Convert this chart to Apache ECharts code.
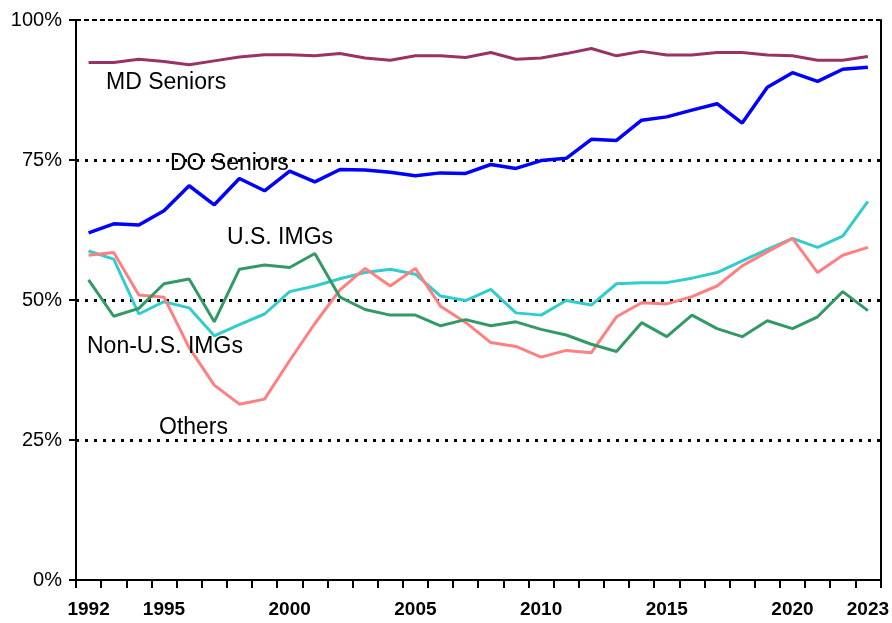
<!DOCTYPE html>
<html>
<head>
<meta charset="utf-8">
<script src="https://cdn.jsdelivr.net/npm/echarts@6/dist/echarts.min.js"></script>
<style>
html,body{margin:0;padding:0;background:#fff;}
#chart{width:892px;height:623px;}
</style>
</head>
<body>
<div id="chart"></div>
<script>
var years = ['1992','1993','1994','1995','1996','1997','1998','1999','2000','2001','2002','2003','2004','2005','2006','2007','2008','2009','2010','2011','2012','2013','2014','2015','2016','2017','2018','2019','2020','2021','2022','2023'];
var shownYears = ['1992','1995','2000','2005','2010','2015','2020','2023'];
var yTickLabels = ['0%','25%','50%','75%','100%'];

var mdSeniors = [92.4,92.4,93.0,92.6,92.0,92.7,93.4,93.8,93.8,93.6,94.0,93.2,92.8,93.6,93.6,93.3,94.2,93.0,93.2,94.0,94.9,93.6,94.4,93.75,93.75,94.2,94.2,93.75,93.6,92.8,92.8,93.5];
var doSeniors = [62.0,63.6,63.4,65.95,70.4,67.0,71.7,69.5,73.0,71.1,73.3,73.2,72.8,72.2,72.7,72.6,74.2,73.5,74.9,75.3,78.7,78.5,82.1,82.7,83.9,85.05,81.6,88.0,90.6,89.05,91.2,91.55];
var usImgs = [58.75,57.3,47.5,49.7,48.6,43.6,45.6,47.5,51.5,52.5,53.8,54.9,55.5,54.6,50.7,49.9,51.9,47.7,47.3,49.9,49.1,52.9,53.1,53.1,53.9,54.9,57.0,59.05,61.0,59.4,61.4,67.6];
var nonUsImgs = [58.0,58.5,50.9,50.5,41.5,34.8,31.4,32.3,39.2,45.8,51.8,55.65,52.5,55.65,48.9,46.0,42.4,41.7,39.8,41.0,40.6,47.0,49.5,49.3,50.6,52.5,56.1,58.6,61.0,54.9,58.0,59.4];
var others = [53.6,47.1,48.5,52.9,53.75,46.1,55.5,56.25,55.8,58.3,50.5,48.3,47.3,47.3,45.4,46.5,45.4,46.1,44.75,43.75,42.1,40.8,45.95,43.45,47.3,44.9,43.45,46.3,44.9,47.0,51.5,48.1];

var seriesNames = ['MD Seniors','DO Seniors','U.S. IMGs','Non-U.S. IMGs','Others'];
var seriesData = [mdSeniors, doSeniors, usImgs, nonUsImgs, others];
var seriesColors = ['#993366','#0000FF','#33CCCC','#FF8080','#339966'];
var seriesWidths = [3, 3.5, 3, 3, 3];

var chart = echarts.init(document.getElementById('chart'), null, {renderer:'canvas'});
var FONT = '"Liberation Sans", Arial, sans-serif';

var series = seriesData.map(function(d, i){
  var s = {
    name: seriesNames[i], type:'line', data: d, symbol:'none',
    lineStyle:{color:seriesColors[i], width:seriesWidths[i]},
    itemStyle:{color:seriesColors[i]},
    z: 3 + (i===0||i===1 ? 1 : 0),
    animation:false
  };
  if (i === 0) {
    s.markLine = {
      silent:true, symbol:'none', animation:false,
      label:{show:false},
      lineStyle:{color:'#000', width:2, type:[5,3]},
      data:[{yAxis:100}]
    };
  }
  return s;
});

var labelTexts = [
  {text:'MD Seniors', left:106, top:71},
  {text:'DO Seniors', left:170, top:152},
  {text:'U.S. IMGs', left:227, top:226},
  {text:'Non-U.S. IMGs', left:87, top:335},
  {text:'Others', left:159, top:416}
];

chart.setOption({
  animation:false,
  backgroundColor:'#fff',
  grid:{left:76, right:10, top:20, bottom:43, containLabel:false},
  xAxis:{
    type:'category', data:years, boundaryGap:true,
    axisLine:{show:true, lineStyle:{color:'#000', width:2}},
    axisTick:{show:true, alignWithLabel:false, interval:0, length:8, lineStyle:{color:'#000', width:2}},
    axisLabel:{
      interval:0, margin:20, color:'#000', fontFamily:FONT, fontWeight:'bold', fontSize:19,
      formatter:function(v){ return shownYears.indexOf(v) >= 0 ? v : ''; }
    },
    splitLine:{show:false}
  },
  yAxis:[{
    type:'value', min:0, max:100, interval:25,
    axisLine:{show:true, lineStyle:{color:'#000', width:2}},
    axisTick:{show:true, length:7, lineStyle:{color:'#000', width:2}},
    axisLabel:{
      margin:14, color:'#000', fontFamily:FONT, fontSize:20,
      formatter:function(v){ return yTickLabels[Math.round(v/25)]; }
    },
    splitLine:{show:true, lineStyle:{color:['rgba(0,0,0,0)','#000','#000','#000','rgba(0,0,0,0)'], width:3, type:[3,6]}}
  },{
    type:'value', min:0, max:100, interval:25, position:'right',
    axisLine:{show:true, lineStyle:{color:'#000', width:2}},
    axisTick:{show:false}, axisLabel:{show:false}, splitLine:{show:false}
  }],
  graphic: labelTexts.map(function(l){
    return {type:'text', left:l.left, top:l.top, z:10,
      style:{text:l.text, fill:'#000', font:'23px "Liberation Sans", Arial, sans-serif'}};
  }),
  series: series
});
</script>
</body>
</html>
